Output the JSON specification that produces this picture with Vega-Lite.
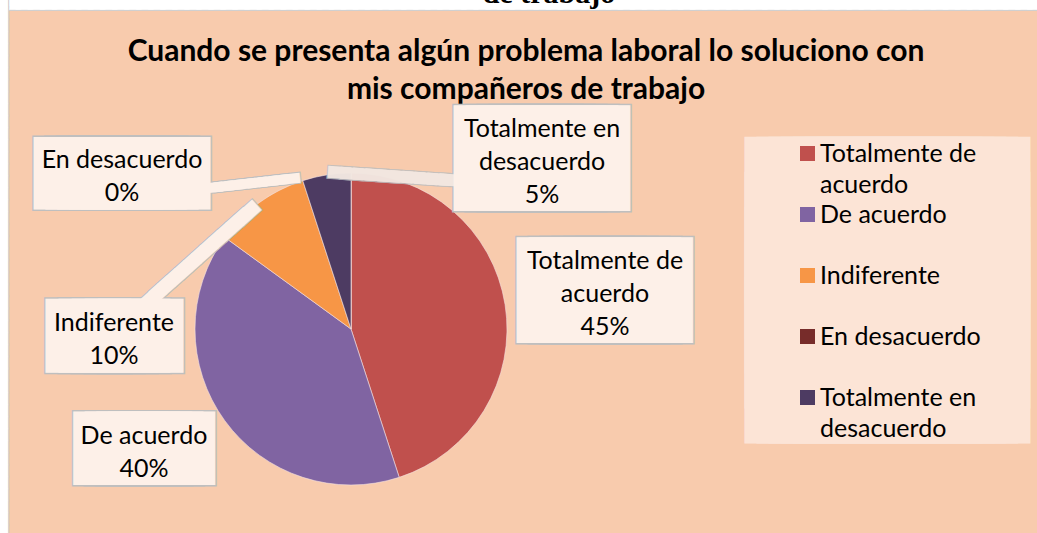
{
  "$schema": "https://vega.github.io/schema/vega-lite/v6.json",
  "width": 312,
  "height": 312,
  "autosize": {"type": "none"},
  "padding": {"left": 195, "top": 173, "right": 530, "bottom": 48},
  "background": "#F8CBAD",
  "config": {"view": {"stroke": null}, "style": {"guide-label": {"lineHeight": 31}}},
  "data": {
    "values": [
      {"cat": "Totalmente de acuerdo", "pct": 45},
      {"cat": "De acuerdo", "pct": 40},
      {"cat": "Indiferente", "pct": 10},
      {"cat": "En desacuerdo", "pct": 0},
      {"cat": "Totalmente en desacuerdo", "pct": 5}
    ]
  },
  "encoding": {
    "theta": {"field": "pct", "type": "quantitative", "stack": true},
    "order": {"field": "pct", "sort": "descending"}
  },
  "layer": [
    {
      "mark": {"type": "arc", "stroke": "#F3E0E0", "strokeWidth": 0.6},
      "encoding": {
        "color": {
          "field": "cat",
          "type": "nominal",
          "sort": null,
          "scale": {
            "domain": ["Totalmente de acuerdo", "De acuerdo", "Indiferente", "En desacuerdo", "Totalmente en desacuerdo"],
            "range": ["#C0504D", "#8064A2", "#F79646", "#772C2A", "#4D3B62"]
          },
          "legend": {
            "orient": "none",
            "legendX": 550,
            "legendY": -38,
            "title": null,
            "padding": 6,
            "symbolType": "square",
            "symbolSize": 225,
            "symbolStrokeWidth": 0,
            "symbolOffset": 44,
            "labelFont": "Lato",
            "labelFontSize": 25,
            "labelColor": "#000000",
            "labelBaseline": "middle",
            "labelOffset": 0,
            "labelLimit": 400,
            "gridAlign": "all",
            "rowPadding": 4,
            "labelExpr": "datum.label == 'Totalmente de acuerdo' ? ['Totalmente de', 'acuerdo'] : datum.label == 'Totalmente en desacuerdo' ? ['Totalmente en', 'desacuerdo'] : datum.label"
          }
        }
      }
    },
    {"mark": {"type": "text", "radius": 180, "dx": 167, "dy": -148, "font": "DejaVu Sans Mono", "fontSize": 20, "fill": "#D0D0D0", "stroke": "#D0D0D0", "strokeWidth": 20, "strokeJoin": "miter", "align": "center", "baseline": "middle"},
     "encoding": {"text": {"condition": {"test": "datum.cat === 'En desacuerdo'", "value": "──────────────────────────────────────────────────────────────────────────────────────────"}, "value": ""}}},
    {"mark": {"type": "text", "radius": 180, "dx": 167, "dy": -148, "font": "DejaVu Sans Mono", "fontSize": 20, "fill": "#FFFFFF", "stroke": "#FFFFFF", "strokeWidth": 17, "strokeJoin": "miter", "align": "center", "baseline": "middle"},
     "encoding": {"text": {"condition": {"test": "datum.cat === 'En desacuerdo'", "value": "──────────────────────────────────────────────────────────────────────────────────────────"}, "value": ""}}},
    {"mark": {"type": "text", "radius": 180, "angle": 90, "dx": 117, "dy": 351, "font": "DejaVu Sans Mono", "fontSize": 20, "fill": "#D0D0D0", "stroke": "#D0D0D0", "strokeWidth": 14.3, "strokeJoin": "miter", "align": "center", "baseline": "middle"},
     "encoding": {"text": {"condition": {"test": "datum.cat === 'En desacuerdo'", "value": "──────────────────────────────────────────────"}, "value": ""}}},
    {"mark": {"type": "text", "radius": 180, "angle": 90, "dx": 117, "dy": 351, "font": "DejaVu Sans Mono", "fontSize": 20, "fill": "#FFFFFF", "stroke": "#FFFFFF", "strokeWidth": 12, "strokeJoin": "miter", "align": "center", "baseline": "middle"},
     "encoding": {"text": {"condition": {"test": "datum.cat === 'En desacuerdo'", "value": "──────────────────────────────────────────────"}, "value": ""}}},
    {"mark": {"type": "text", "radius": 180, "dx": 198, "dy": -146, "font": "Liberation Serif", "fontSize": 30, "fontWeight": "bold", "color": "#000000", "align": "center", "baseline": "alphabetic"},
     "encoding": {"text": {"condition": {"test": "datum.cat === 'En desacuerdo'", "value": "de trabajo"}, "value": ""}}},
    {"mark": {"type": "text", "radius": 180, "dx": 175, "dy": -97, "font": "Lato", "fontSize": 30, "fontWeight": "bold", "lineHeight": 38, "color": "#000000", "align": "center", "baseline": "middle"},
     "encoding": {"text": {"condition": {"test": "datum.cat === 'En desacuerdo'", "value": ["Cuando se presenta algún problema laboral lo soluciono con", "mis compañeros de trabajo"]}, "value": ""}}},
    {"mark": {"type": "text", "radius": 180, "dx": 358.7, "dy": -80.3, "font": "DejaVu Sans Mono", "fontSize": 20, "lineHeight": 35, "fill": "#FCE4D6", "stroke": "#FCE4D6", "strokeWidth": 165, "strokeJoin": "miter", "align": "center", "baseline": "middle"},
     "encoding": {"text": {"condition": {"test": "datum.cat === 'Totalmente de acuerdo'", "value": ["──────────", "──────────", "──────────", "──────────", "──────────"]}, "value": ""}}},
    {"mark": {"type": "text", "radius": 180, "dx": 76, "dy": -10, "font": "DejaVu Sans Mono", "fontSize": 20, "fill": "#BFBFBF", "stroke": "#BFBFBF", "strokeWidth": 107, "strokeJoin": "miter", "align": "center", "baseline": "middle"},
     "encoding": {"text": {"condition": {"test": "datum.cat === 'Totalmente de acuerdo'", "value": "──────"}, "value": ""}}},
    {"mark": {"type": "text", "radius": 180, "dx": 219, "dy": 8, "font": "DejaVu Sans Mono", "fontSize": 20, "fill": "#BFBFBF", "stroke": "#BFBFBF", "strokeWidth": 107, "strokeJoin": "miter", "align": "center", "baseline": "middle"},
     "encoding": {"text": {"condition": {"test": "datum.cat === 'Totalmente en desacuerdo'", "value": "──────"}, "value": ""}}},
    {"mark": {"type": "text", "radius": 180, "dx": -229, "dy": 24.5, "font": "DejaVu Sans Mono", "fontSize": 19.5, "fill": "#BFBFBF", "stroke": "#BFBFBF", "strokeWidth": 74, "strokeJoin": "miter", "align": "center", "baseline": "middle"},
     "encoding": {"text": {"condition": {"test": "datum.cat === 'En desacuerdo'", "value": "─────────"}, "value": ""}}},
    {"mark": {"type": "text", "radius": 180, "dx": -131, "dy": 152.6, "font": "DejaVu Sans Mono", "fontSize": 21.8, "fill": "#BFBFBF", "stroke": "#BFBFBF", "strokeWidth": 75, "strokeJoin": "miter", "align": "center", "baseline": "middle"},
     "encoding": {"text": {"condition": {"test": "datum.cat === 'Indiferente'", "value": "─────"}, "value": ""}}},
    {"mark": {"type": "text", "radius": 180, "dx": -61.4, "dy": 14.2, "font": "DejaVu Sans Mono", "fontSize": 19.3, "fill": "#BFBFBF", "stroke": "#BFBFBF", "strokeWidth": 75, "strokeJoin": "miter", "align": "center", "baseline": "middle"},
     "encoding": {"text": {"condition": {"test": "datum.cat === 'De acuerdo'", "value": "──────"}, "value": ""}}},
    {"mark": {"type": "text", "radius": 0, "angle": 3.84, "dx": 33.75, "dy": -154.11, "font": "DejaVu Sans Mono", "fontSize": 20.6, "fill": "#BFBFBF", "stroke": "#BFBFBF", "strokeWidth": 12.5, "strokeJoin": "miter", "opacity": 0.85, "align": "center", "baseline": "middle"},
     "encoding": {"text": {"condition": {"test": "datum.cat === 'Totalmente en desacuerdo'", "value": "──────────"}, "value": ""}}},
    {"mark": {"type": "text", "radius": 0, "angle": -6.47, "dx": -82.48, "dy": -155.78, "font": "DejaVu Sans Mono", "fontSize": 18.5, "fill": "#BFBFBF", "stroke": "#BFBFBF", "strokeWidth": 10.6, "strokeJoin": "miter", "align": "center", "baseline": "middle"},
     "encoding": {"text": {"condition": {"test": "datum.cat === 'En desacuerdo'", "value": "────────"}, "value": ""}}},
    {"mark": {"type": "text", "radius": 0, "angle": -41.76, "dx": -62.61, "dy": -155.1, "font": "DejaVu Sans Mono", "fontSize": 19, "fill": "#BFBFBF", "stroke": "#BFBFBF", "strokeWidth": 14.6, "strokeJoin": "miter", "align": "center", "baseline": "middle"},
     "encoding": {"text": {"condition": {"test": "datum.cat === 'Indiferente'", "value": "────────────"}, "value": ""}}},
    {"mark": {"type": "text", "radius": 180, "dx": 76, "dy": -10, "font": "DejaVu Sans Mono", "fontSize": 20, "fill": "#FDF0E8", "stroke": "#FDF0E8", "strokeWidth": 104, "strokeJoin": "miter", "align": "center", "baseline": "middle"},
     "encoding": {"text": {"condition": {"test": "datum.cat === 'Totalmente de acuerdo'", "value": "──────"}, "value": ""}}},
    {"mark": {"type": "text", "radius": 180, "dx": 219, "dy": 8, "font": "DejaVu Sans Mono", "fontSize": 20, "fill": "#FDF0E8", "stroke": "#FDF0E8", "strokeWidth": 104, "strokeJoin": "miter", "align": "center", "baseline": "middle"},
     "encoding": {"text": {"condition": {"test": "datum.cat === 'Totalmente en desacuerdo'", "value": "──────"}, "value": ""}}},
    {"mark": {"type": "text", "radius": 180, "dx": -229, "dy": 24.5, "font": "DejaVu Sans Mono", "fontSize": 19.5, "fill": "#FDF0E8", "stroke": "#FDF0E8", "strokeWidth": 71, "strokeJoin": "miter", "align": "center", "baseline": "middle"},
     "encoding": {"text": {"condition": {"test": "datum.cat === 'En desacuerdo'", "value": "─────────"}, "value": ""}}},
    {"mark": {"type": "text", "radius": 180, "dx": -131, "dy": 152.6, "font": "DejaVu Sans Mono", "fontSize": 21.8, "fill": "#FDF0E8", "stroke": "#FDF0E8", "strokeWidth": 72, "strokeJoin": "miter", "align": "center", "baseline": "middle"},
     "encoding": {"text": {"condition": {"test": "datum.cat === 'Indiferente'", "value": "─────"}, "value": ""}}},
    {"mark": {"type": "text", "radius": 180, "dx": -61.4, "dy": 14.2, "font": "DejaVu Sans Mono", "fontSize": 19.3, "fill": "#FDF0E8", "stroke": "#FDF0E8", "strokeWidth": 72, "strokeJoin": "miter", "align": "center", "baseline": "middle"},
     "encoding": {"text": {"condition": {"test": "datum.cat === 'De acuerdo'", "value": "──────"}, "value": ""}}},
    {"mark": {"type": "text", "radius": 0, "angle": 3.84, "dx": 33.75, "dy": -154.11, "font": "DejaVu Sans Mono", "fontSize": 20.6, "fill": "#FDF0E8", "stroke": "#FDF0E8", "strokeWidth": 10.25, "strokeJoin": "miter", "opacity": 0.8, "align": "center", "baseline": "middle"},
     "encoding": {"text": {"condition": {"test": "datum.cat === 'Totalmente en desacuerdo'", "value": "──────────"}, "value": ""}}},
    {"mark": {"type": "text", "radius": 0, "angle": -6.47, "dx": -82.48, "dy": -155.78, "font": "DejaVu Sans Mono", "fontSize": 18.5, "fill": "#FDF0E8", "stroke": "#FDF0E8", "strokeWidth": 8.4, "strokeJoin": "miter", "align": "center", "baseline": "middle"},
     "encoding": {"text": {"condition": {"test": "datum.cat === 'En desacuerdo'", "value": "────────"}, "value": ""}}},
    {"mark": {"type": "text", "radius": 0, "angle": -41.76, "dx": -62.61, "dy": -155.1, "font": "DejaVu Sans Mono", "fontSize": 19, "fill": "#FDF0E8", "stroke": "#FDF0E8", "strokeWidth": 12.4, "strokeJoin": "miter", "align": "center", "baseline": "middle"},
     "encoding": {"text": {"condition": {"test": "datum.cat === 'Indiferente'", "value": "────────────"}, "value": ""}}},
    {"mark": {"type": "text", "radius": 180, "dx": 76.2, "dy": -39.8, "font": "Lato", "fontSize": 25, "lineHeight": 33, "color": "#000000", "align": "center", "baseline": "middle"},
     "encoding": {"text": {"condition": {"test": "datum.cat === 'Totalmente de acuerdo'", "value": ["Totalmente de", "acuerdo", "45%"]}, "value": ""}}},
    {"mark": {"type": "text", "radius": 180, "dx": 219.2, "dy": -22.2, "font": "Lato", "fontSize": 25, "lineHeight": 33, "color": "#000000", "align": "center", "baseline": "middle"},
     "encoding": {"text": {"condition": {"test": "datum.cat === 'Totalmente en desacuerdo'", "value": ["Totalmente en", "desacuerdo", "5%"]}, "value": ""}}},
    {"mark": {"type": "text", "radius": 180, "dx": -229, "dy": 10.5, "font": "Lato", "fontSize": 25, "lineHeight": 33, "color": "#000000", "align": "center", "baseline": "middle"},
     "encoding": {"text": {"condition": {"test": "datum.cat === 'En desacuerdo'", "value": ["En desacuerdo", "0%"]}, "value": ""}}},
    {"mark": {"type": "text", "radius": 180, "dx": -131.2, "dy": 140.1, "font": "Lato", "fontSize": 25, "lineHeight": 33, "color": "#000000", "align": "center", "baseline": "middle"},
     "encoding": {"text": {"condition": {"test": "datum.cat === 'Indiferente'", "value": ["Indiferente", "10%"]}, "value": ""}}},
    {"mark": {"type": "text", "radius": 180, "dx": -61.4, "dy": 0.7, "font": "Lato", "fontSize": 25, "lineHeight": 33, "color": "#000000", "align": "center", "baseline": "middle"},
     "encoding": {"text": {"condition": {"test": "datum.cat === 'De acuerdo'", "value": ["De acuerdo", "40%"]}, "value": ""}}}
  ]
}
